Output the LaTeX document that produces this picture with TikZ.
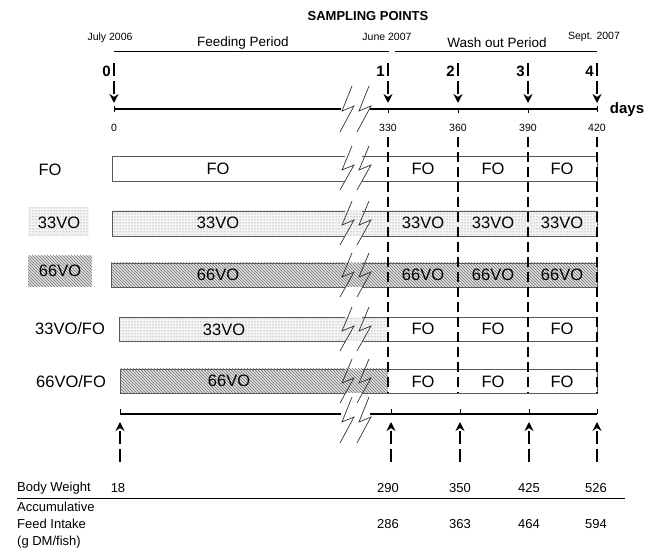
\documentclass[tikz,border=0pt]{standalone}
\usepackage{fontspec}
\setmainfont{Liberation Sans}
\usetikzlibrary{patterns, arrows.meta, calc}

% eclair de coupure (double zigzag) centre en (#2,#3)
\newcommand{\eclair}[3][22]{%
  \begin{scope}[shift={(#2,#3)}]
    \draw[coupure] (12,-#1) -- (2,2) -- (14,-3) -- (0,#1);
    \draw[coupure] (29,-#1) -- (19,2) -- (31,-3) -- (17,#1);
  \end{scope}}

\begin{document}
\begin{tikzpicture}[x=1pt, y=-1pt,
  contour/.style={draw=black!65, line width=0.8pt},
  coupure/.style={draw=black!80, line width=0.7pt},
  axe/.style={line width=1.8pt},
  fleche/.style={line width=1.7pt, dash pattern=on 13pt off 5pt,
                 -{Stealth[length=9pt, width=9pt]}},
  pointille/.style={line width=1.8pt, dash pattern=on 10pt off 5pt},
  pointsfill/.style={fill=gray!8, postaction={pattern=dots, pattern color=black!55}},
  hachure/.style={fill=gray!25, postaction={pattern=north west lines, pattern color=black!55}},
  texte/.style={inner sep=0pt, font=\fontsize{16.5}{17}\selectfont},
  periode/.style={inner sep=0pt, font=\fontsize{13.5}{14}\selectfont},
  petit/.style={inner sep=0pt, font=\fontsize{10.5}{11}\selectfont},
  tableau/.style={inner sep=0pt, font=\fontsize{13}{17}\selectfont},
  numero/.style={inner sep=0pt, font=\fontsize{15}{15}\selectfont\bfseries}
]
  \useasboundingbox (0,0) rectangle (654,553);

  %=========================================================
  % 1. En-tete : periodes et dates
  %=========================================================
  \node[inner sep=0pt, font=\fontsize{13}{13}\selectfont\bfseries] (titre) at (368,16) {SAMPLING POINTS};
  \node[petit] (juil) at (110,38) {July 2006};
  \node[periode] (alim) at (243,43) {Feeding Period};
  \node[petit] (juin) at (387,37) {June 2007};
  \node[periode] (lavage) at (497,43) {Wash out Period};
  \node[petit] (sept) at (594,37) {Sept. 2007};
  \draw[line width=0.9pt] (114,51) -- (389,51);
  \draw[line width=0.9pt] (395,51) -- (597,51);

  %=========================================================
  % 2. Points d'echantillonnage et axe des jours
  %=========================================================
  \node[numero, anchor=east] (s0) at (111,71) {0};
  \node[numero, anchor=east] (s1) at (385,71) {1};
  \node[numero, anchor=east] (s2) at (455,71) {2};
  \node[numero, anchor=east] (s3) at (525,71) {3};
  \node[numero, anchor=east] (s4) at (594,71) {4};

  \coordinate (h0) at (114,63);  \coordinate (b0) at (114,103);
  \coordinate (h1) at (388,63);  \coordinate (b1) at (388,103);
  \coordinate (h2) at (458,63);  \coordinate (b2) at (458,103);
  \coordinate (h3) at (528,63);  \coordinate (b3) at (528,103);
  \coordinate (h4) at (597,63);  \coordinate (b4) at (597,103);
  \draw[fleche] (h0) -- (b0);
  \draw[fleche] (h1) -- (b1);
  \draw[fleche] (h2) -- (b2);
  \draw[fleche] (h3) -- (b3);
  \draw[fleche] (h4) -- (b4);

  \coordinate (axeG) at (114,109);
  \coordinate (axeC) at (341,109);
  \coordinate (axeR) at (370,109);
  \coordinate (axeD) at (597,109);
  \draw[axe] (axeG) -- (axeC);
  \draw[axe] (axeR) -- (axeD);
  \draw[line width=0.8pt] (114,106) -- (114,112);
  \draw[line width=0.8pt] (388,109) -- (388,113);
  \draw[line width=0.8pt] (458,109) -- (458,113);
  \draw[line width=0.8pt] (528,109) -- (528,113);
  \draw[line width=0.8pt] (597,106) -- (597,112);
  \eclair[23]{340}{109}
  \node[inner sep=0pt, font=\fontsize{15}{15}\selectfont\bfseries] (jours) at (627,110) {days};

  \node[petit] (j0) at (114,128) {0};
  \node[petit] (j330) at (388,128) {330};
  \node[petit] (j360) at (458,128) {360};
  \node[petit] (j390) at (528,128) {390};
  \node[petit] (j420) at (597,128) {420};

  %=========================================================
  % 3. Barres des regimes
  %=========================================================
  % --- FO ---
  \node[texte] (lFO) at (50,170) {FO};
  \draw[contour] (345,156) -- (112,156) -- (112,181) -- (345,181);
  \draw[contour] (362,156) -- (597,156) -- (597,181) -- (362,181);
  \node[texte] (bFO) at (218,169) {FO};
  \node[texte] (rFOa) at (423,169) {FO};
  \node[texte] (rFOb) at (493,169) {FO};
  \node[texte] (rFOc) at (562,169) {FO};
  \eclair[22]{340}{168}

  % --- 33VO ---
  \fill[pointsfill] (28,207) rectangle (89,237);
  \node[texte] (l33) at (59,223) {33VO};
  \fill[pointsfill] (112,211) rectangle (597,236);
  \draw[contour] (345,211) -- (112,211) -- (112,236) -- (345,236);
  \draw[contour] (362,211) -- (597,211) -- (597,236) -- (362,236);
  \node[texte] (b33) at (218,223) {33VO};
  \node[texte] (r33a) at (423,223) {33VO};
  \node[texte] (r33b) at (493,223) {33VO};
  \node[texte] (r33c) at (562,223) {33VO};
  \eclair[22]{340}{223}

  % --- 66VO ---
  \fill[hachure] (28,256) rectangle (92,287);
  \node[texte] (l66) at (60,271) {66VO};
  \fill[hachure] (111,263) rectangle (597,287);
  \draw[contour] (345,263) -- (111,263) -- (111,287) -- (345,287);
  \draw[contour] (362,263) -- (597,263) -- (597,287) -- (362,287);
  \node[texte] (b66) at (218,275) {66VO};
  \node[texte] (r66a) at (423,275) {66VO};
  \node[texte] (r66b) at (493,275) {66VO};
  \node[texte] (r66c) at (562,275) {66VO};
  \eclair[22]{340}{275}

  % --- 33VO/FO ---
  \node[texte] (l33FO) at (70,329) {33VO/FO};
  \fill[pointsfill] (119,317) rectangle (388,341);
  \draw[contour] (345,317) -- (119,317) -- (119,341) -- (345,341);
  \draw[contour] (362,317) -- (597,317) -- (597,341) -- (362,341);
  \node[texte] (b33FO) at (224,330) {33VO};
  \node[texte] (r33FOa) at (423,329) {FO};
  \node[texte] (r33FOb) at (493,329) {FO};
  \node[texte] (r33FOc) at (562,329) {FO};
  \eclair[22]{340}{329}

  % --- 66VO/FO ---
  \node[texte] (l66FO) at (71,382) {66VO/FO};
  \fill[hachure] (120,369) rectangle (388,393);
  \draw[contour] (345,369) -- (120,369) -- (120,393) -- (345,393);
  \draw[contour] (362,369) -- (597,369) -- (597,393) -- (362,393);
  \node[texte] (b66FO) at (229,381) {66VO};
  \node[texte] (r66FOa) at (423,382) {FO};
  \node[texte] (r66FOb) at (493,382) {FO};
  \node[texte] (r66FOc) at (562,382) {FO};
  \eclair[22]{340}{381}

  % --- traits pointilles des prelevements ---
  \draw[pointille] (388,137) -- (388,393);
  \draw[pointille] (458,137) -- (458,393);
  \draw[pointille] (528,137) -- (528,393);
  \draw[pointille] (597,137) -- (597,393);

  %=========================================================
  % 4. Axe du bas et fleches de mesure
  %=========================================================
  \coordinate (basG) at (120,414);
  \coordinate (basC) at (341,414);
  \coordinate (basR) at (370,414);
  \coordinate (basD) at (597,414);
  \draw[axe] (basG) -- (basC);
  \draw[axe] (basR) -- (basD);
  \draw[line width=0.8pt] (120,409) -- (120,414);
  \draw[line width=0.8pt] (391,409) -- (391,414);
  \draw[line width=0.8pt] (460,409) -- (460,414);
  \draw[line width=0.8pt] (529,409) -- (529,414);
  \draw[line width=0.8pt] (597,409) -- (597,414);
  \eclair[23]{340}{420}

  \coordinate (m0) at (120,462);  \coordinate (p0) at (120,422);
  \coordinate (m1) at (391,462);  \coordinate (p1) at (391,422);
  \coordinate (m2) at (460,462);  \coordinate (p2) at (460,422);
  \coordinate (m3) at (529,462);  \coordinate (p3) at (529,422);
  \coordinate (m4) at (597,462);  \coordinate (p4) at (597,422);
  \draw[fleche] (m0) -- (p0);
  \draw[fleche] (m1) -- (p1);
  \draw[fleche] (m2) -- (p2);
  \draw[fleche] (m3) -- (p3);
  \draw[fleche] (m4) -- (p4);

  %=========================================================
  % 5. Tableau : poids et ingere cumule
  %=========================================================
  \node[tableau, anchor=west] (poids) at (17,488) {Body Weight};
  \node[tableau] (p18) at (118,488) {18};
  \node[tableau] (p290) at (388,488) {290};
  \node[tableau] (p350) at (460,488) {350};
  \node[tableau] (p425) at (529,488) {425};
  \node[tableau] (p526) at (596,488) {526};
  \draw[line width=0.6pt] (17,498) -- (625,498);
  \node[tableau, anchor=north west, align=left] (ingere) at (17,502)
    {Accumulative\\Feed Intake\\(g DM/fish)};
  \node[tableau] (i286) at (388,524) {286};
  \node[tableau] (i363) at (460,524) {363};
  \node[tableau] (i464) at (529,524) {464};
  \node[tableau] (i594) at (596,524) {594};

\end{tikzpicture}
\end{document}
